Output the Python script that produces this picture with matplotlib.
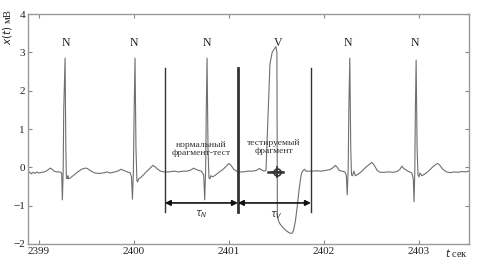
import matplotlib
matplotlib.use("Agg")
import matplotlib.pyplot as plt

# ECG signal (time in s, amplitude in mV)
t = [2398.884, 2398.90, 2398.92, 2398.94, 2398.96, 2398.98, 2399.00, 2399.03, 2399.06, 2399.09,
     2399.12, 2399.14, 2399.16, 2399.19, 2399.22, 2399.240, 2399.248, 2399.256, 2399.262, 2399.276,
     2399.284, 2399.29, 2399.30, 2399.305, 2399.31, 2399.33, 2399.37, 2399.41, 2399.45, 2399.49,
     2399.51, 2399.55, 2399.59, 2399.64, 2399.69, 2399.72, 2399.75, 2399.80, 2399.84, 2399.865,
     2399.89, 2399.93, 2399.96, 2399.975, 2399.985, 2399.995, 2400.003, 2400.012, 2400.022, 2400.032,
     2400.04, 2400.05, 2400.07, 2400.10, 2400.13, 2400.16, 2400.18, 2400.20, 2400.22, 2400.25,
     2400.28, 2400.32, 2400.37, 2400.42, 2400.47, 2400.52, 2400.56, 2400.60, 2400.63, 2400.65,
     2400.68, 2400.71, 2400.735, 2400.745, 2400.755, 2400.762, 2400.770, 2400.780, 2400.79, 2400.80,
     2400.81, 2400.83, 2400.86, 2400.90, 2400.94, 2400.98, 2401.00, 2401.02, 2401.05, 2401.08,
     2401.11, 2401.15, 2401.20, 2401.25, 2401.29, 2401.32, 2401.34, 2401.37, 2401.39, 2401.432,
     2401.455, 2401.48, 2401.495, 2401.505, 2401.51, 2401.53, 2401.56, 2401.60, 2401.64, 2401.665,
     2401.68, 2401.70, 2401.72, 2401.74, 2401.76, 2401.77, 2401.785, 2401.795, 2401.81, 2401.84,
     2401.88, 2401.92, 2401.97, 2402.02, 2402.06, 2402.09, 2402.12, 2402.14, 2402.16, 2402.19,
     2402.22, 2402.235, 2402.245, 2402.255, 2402.262, 2402.272, 2402.282, 2402.29, 2402.30, 2402.315,
     2402.33, 2402.36, 2402.40, 2402.44, 2402.48, 2402.505, 2402.53, 2402.56, 2402.59, 2402.63,
     2402.68, 2402.73, 2402.77, 2402.80, 2402.82, 2402.84, 2402.87, 2402.90, 2402.925, 2402.94,
     2402.948, 2402.956, 2402.962, 2402.970, 2402.980, 2402.99, 2403.00, 2403.01, 2403.03, 2403.06,
     2403.10, 2403.14, 2403.18, 2403.20, 2403.22, 2403.25, 2403.29, 2403.33, 2403.37, 2403.41,
     2403.45, 2403.49, 2403.526]
x = [-0.15, -0.12, -0.17, -0.13, -0.16, -0.12, -0.15, -0.13, -0.12, -0.08,
     -0.02, -0.05, -0.10, -0.12, -0.12, -0.15, -0.85, -0.10, 1.50, 2.85,
     0.50, -0.28, -0.30, -0.22, -0.30, -0.28, -0.20, -0.12, -0.05, -0.02,
     -0.03, -0.10, -0.15, -0.16, -0.14, -0.12, -0.15, -0.12, -0.09, -0.05,
     -0.08, -0.12, -0.14, -0.25, -0.83, -0.10, 1.50, 2.85, 0.50, -0.35,
     -0.38, -0.30, -0.27, -0.20, -0.12, -0.05, 0.00, 0.05, 0.02, -0.05,
     -0.10, -0.12, -0.12, -0.10, -0.12, -0.10, -0.10, -0.07, -0.02, -0.05,
     -0.08, -0.10, -0.20, -0.85, -0.10, 1.50, 2.85, 0.50, -0.28, -0.30,
     -0.22, -0.25, -0.20, -0.12, -0.05, 0.05, 0.10, 0.06, -0.05, -0.10,
     -0.12, -0.12, -0.10, -0.10, -0.08, -0.03, -0.06, -0.10, -0.08, 2.70,
     3.00, 3.10, 3.15, 3.00, -1.30, -1.45, -1.55, -1.65, -1.72, -1.72,
     -1.65, -1.40, -1.00, -0.55, -0.20, -0.12, -0.08, -0.05, -0.10, -0.10,
     -0.10, -0.09, -0.10, -0.08, -0.06, -0.02, 0.05, 0.00, -0.08, -0.10,
     -0.12, -0.20, -0.72, -0.05, 1.50, 2.85, 0.50, -0.20, -0.22, -0.10,
     -0.22, -0.18, -0.10, 0.00, 0.08, 0.13, 0.05, -0.08, -0.13, -0.13,
     -0.12, -0.13, -0.11, -0.05, 0.03, -0.03, -0.08, -0.12, -0.15, -0.30,
     -0.90, -0.10, 1.50, 2.80, 0.50, -0.20, -0.25, -0.15, -0.22, -0.18,
     -0.10, 0.00, 0.08, 0.10, 0.05, -0.05, -0.12, -0.14, -0.12, -0.13,
     -0.11, -0.12, -0.10]

beat_labels = ["N", "N", "N", "V", "N", "N"]
beat_times = [2399.28, 2400.00, 2400.77, 2401.52, 2402.25, 2402.96]

frag_bounds = [2400.326, 2401.095, 2401.863]
cursor_t, cursor_x = 2401.505, -0.12

xticks = [2399, 2400, 2401, 2402, 2403]
yticks = [-2, -1, 0, 1, 2, 3, 4]

plt.rcParams['font.family'] = ['Liberation Serif', 'DejaVu Serif']

fig = plt.figure(figsize=(4.88, 2.66), dpi=100)
ax = fig.add_axes([0.057, 0.083, 0.904, 0.864])

ax.plot(t, x, color='#6f6f6f', lw=0.8)

for lbl, bt in zip(beat_labels, beat_times):
    ax.text(bt, 3.25, lbl, ha='center', va='center', fontsize=8.5, color='#222222')

# fragment boundaries
for i, b in enumerate(frag_bounds):
    ax.plot([b, b], [-1.17, 2.58], color='#333333', lw=2.0 if i == 1 else 1.0)

# arrows
for a, b in [(frag_bounds[0], frag_bounds[1]), (frag_bounds[1], frag_bounds[2])]:
    ax.annotate('', xy=(b, -0.93), xytext=(a, -0.93),
                arrowprops=dict(arrowstyle='<|-|>', color='#111111', lw=1.2,
                                mutation_scale=8, shrinkA=0, shrinkB=0))

ax.text((frag_bounds[0] + frag_bounds[1]) / 2, 0.48, "нормальный\nфрагмент-тест",
        ha='center', va='center', fontsize=6.8, color='#333333', linespacing=1.0)
ax.text(2401.47, 0.52, "тестируемый\nфрагмент",
        ha='center', va='center', fontsize=6.8, color='#333333', linespacing=1.0)
ax.text((frag_bounds[0] + frag_bounds[1]) / 2, -1.22, r"$\tau_N$",
        ha='center', va='center', fontsize=7, color='#333333')
ax.text(cursor_t - 0.01, -1.25, r"$\tau_V$",
        ha='center', va='center', fontsize=7, color='#333333')

# cursor
ax.plot([cursor_t - 0.095, cursor_t + 0.065], [cursor_x, cursor_x], color='#333333', lw=1.8)
ax.plot([cursor_t], [cursor_x], marker='o', ms=5, mfc='none', mec='#333333', mew=1.2)
ax.plot([cursor_t], [cursor_x], marker='+', ms=9, color='#333333', mew=1.2)

ax.set_xlim(2398.884, 2403.526)
ax.set_ylim(-2, 4)
ax.set_xticks(xticks)
ax.set_yticks(yticks)
ax.tick_params(direction='in', length=3, width=0.8, colors='#888888', labelcolor='#222222',
               labelsize=8, top=True, right=True, pad=2)
for s in ax.spines.values():
    s.set_color('#999999')
    s.set_linewidth(1.0)

fig.text(0.016, 0.9, r"$x(t)$ мВ", rotation=90, ha='center', va='center', fontsize=7.5,
         color='#222222')
fig.text(0.936, 0.05, r"$t$ сек", ha='center', va='center', fontsize=7.5, color='#222222')

fig.savefig("out.png", dpi=100)
